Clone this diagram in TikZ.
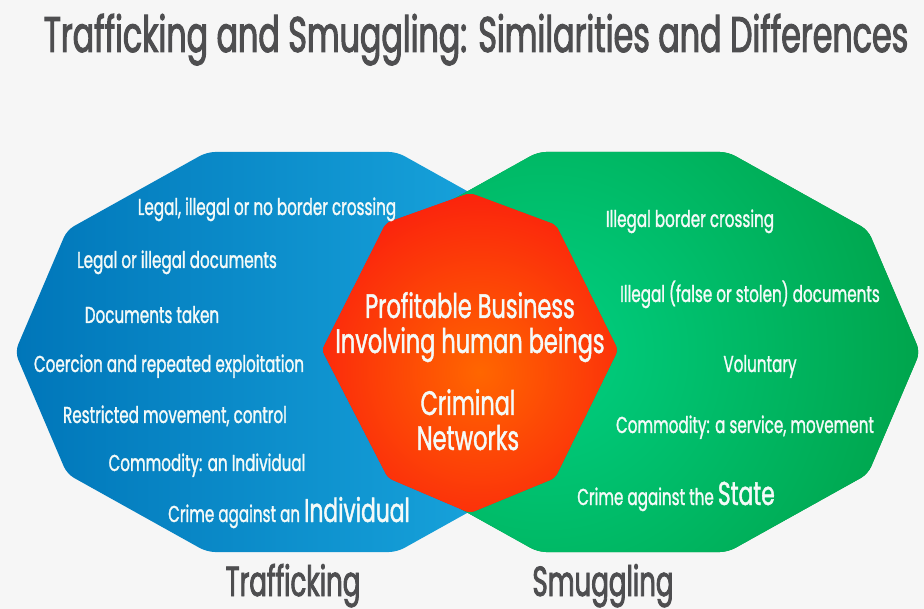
\documentclass[tikz,border=0pt]{standalone}
\usepackage{fontspec}
\setmainfont{Poppins}
\newfontfamily\cf[FakeStretch=0.66,FakeBold=1.2]{Poppins}
\newfontfamily\cft[FakeStretch=0.62,FakeBold=2]{Poppins}
\newfontfamily\cftt[FakeStretch=0.635,FakeBold=2]{Poppins}
\definecolor{bgc}{RGB}{246,246,246}
\definecolor{bluedark}{RGB}{0,118,185}
\definecolor{bluelight}{RGB}{28,172,226}
\definecolor{grnout}{RGB}{0,155,64}
\definecolor{grnin}{RGB}{0,208,130}
\definecolor{redout}{RGB}{250,18,16}
\definecolor{redin}{RGB}{255,102,0}
\definecolor{titlec}{RGB}{78,78,80}
\definecolor{txtc}{RGB}{244,250,248}
\tikzset{
  sm/.style={font=\cf\fontsize{23}{26}\selectfont, text=txtc, anchor=base, inner sep=0pt},
  mid/.style={font=\cf\fontsize{34}{38}\selectfont, text=txtc, anchor=base, inner sep=0pt},
  lab/.style={font=\cft\fontsize{42}{48}\selectfont, text=titlec, anchor=base, inner sep=0pt},
  ttl/.style={font=\cftt\fontsize{50}{56}\selectfont, text=titlec, anchor=base, inner sep=0pt},
}
\begin{document}
\begin{tikzpicture}[x=1pt,y=-1pt]
\useasboundingbox (0,0) rectangle (924,609);
\fill[bgc] (0,0) rectangle (924,609);
% blue decagon
\shade[left color=bluedark, right color=bluelight, rounded corners=8]
  (15,352) -- (67,230) -- (207,152) -- (397,152) -- (537,230) -- (589,352)
  -- (537,474) -- (397,552) -- (207,552) -- (67,474) -- cycle;
% green decagon
\fill[grnout, rounded corners=8]
  (346,352) -- (398,230) -- (538,152) -- (728,152) -- (868,230) -- (920,352)
  -- (868,474) -- (728,552) -- (538,552) -- (398,474) -- cycle;
\begin{scope}
\clip[rounded corners=8]
  (346,352) -- (398,230) -- (538,152) -- (728,152) -- (868,230) -- (920,352)
  -- (868,474) -- (728,552) -- (538,552) -- (398,474) -- cycle;
\shade[inner color=grnin, outer color=grnout] (545,352) circle (460);
\end{scope}
% red octagon
\fill[redout, rounded corners=5]
  (470,193) -- (556,225) -- (618,350) -- (555,478) -- (470,513) -- (388,478) -- (322,350) -- (386,223) -- cycle;
\begin{scope}
\clip[rounded corners=5]
  (470,193) -- (556,225) -- (618,350) -- (555,478) -- (470,513) -- (388,478) -- (322,350) -- (386,223) -- cycle;
\shade[inner color=redin, outer color=redout] (480,372) circle (225);
\end{scope}
% title
\node[ttl] (title) at (476,52) {Trafficking and Smuggling: Similarities and Differences};
% blue texts
\node[sm] (t1) at (267,215) {Legal, illegal or no border crossing};
\node[sm] (t2) at (177,268) {Legal or illegal documents};
\node[sm] (t3) at (152,323) {Documents taken};
\node[sm] (t4) at (169,372) {Coercion and repeated exploitation};
\node[sm] (t5) at (175,423) {Restricted movement, control};
\node[sm] (t6) at (207,471) {Commodity: an Individual};
\node[sm] (t7) at (289,522) {Crime against an {\fontsize{33}{36}\selectfont Individual}};
% green texts
\node[sm] (s1) at (690,227) {Illegal border crossing};
\node[sm] (s2) at (750,302) {Illegal (false or stolen) documents};
\node[sm] (s3) at (760,372) {Voluntary};
\node[sm] (s4) at (745,433) {Commodity: a service, movement};
\node[sm] (s5) at (676,505) {Crime against the {\fontsize{33}{36}\selectfont State}};
% red texts
\node[mid] (r1) at (470,318) {Profitable Business};
\node[mid] (r2) at (470,353) {Involving human beings};
\node[mid] (r3) at (468,415) {Criminal};
\node[mid] (r4) at (468,450) {Networks};
% labels
\node[lab] (lt) at (293,596) {Trafficking};
\node[lab] (ls) at (603,596) {Smuggling};
\end{tikzpicture}
\end{document}
